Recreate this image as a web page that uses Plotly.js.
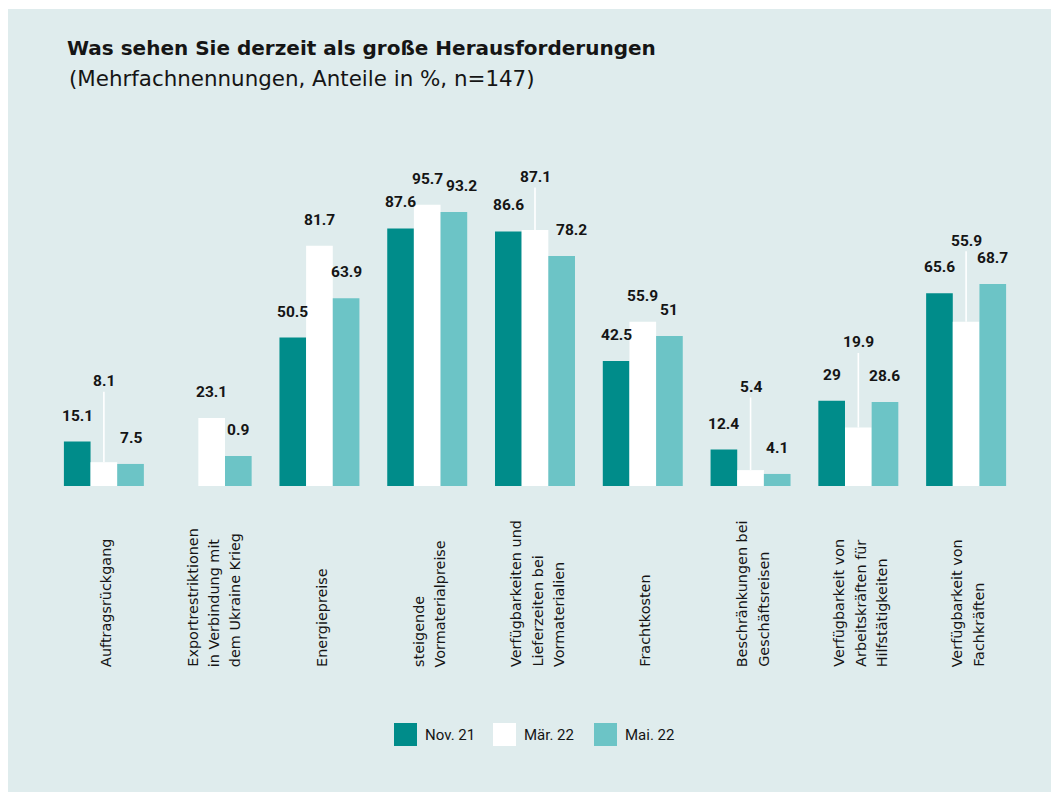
<!DOCTYPE html>
<html>
<head>
<meta charset="utf-8">
<script src="https://cdn.plot.ly/plotly-3.0.1.min.js"></script>
<style>html,body{margin:0;padding:0;background:#fff;}#chart{width:1051px;height:792px;}</style>
</head>
<body>
<div id="chart"></div>
<script>
// ---- data ----
const categories = [
  'Auftragsrückgang',
  'Exportrestriktionen<br>in Verbindung mit<br>dem Ukraine Krieg',
  'Energiepreise',
  'steigende<br>Vormaterialpreise',
  'Verfügbarkeiten und<br>Lieferzeiten bei<br>Vormaterialien',
  'Frachtkosten',
  'Beschränkungen bei<br>Geschäftsreisen',
  'Verfügbarkeit von<br>Arbeitskräften für<br>Hilfstätigkeiten',
  'Verfügbarkeit von<br>Fachkräften'
];
const seriesNames = ['Nov. 21', 'Mär. 22', 'Mai. 22'];
const valuesNov = [15.1, null, 50.5, 87.6, 86.6, 42.5, 12.4, 29, 65.6];
const valuesMar = [8.1, 23.1, 81.7, 95.7, 87.1, 55.9, 5.4, 19.9, 55.9];
const valuesMai = [7.5, 10.2, 63.9, 93.2, 78.2, 51, 4.1, 28.6, 68.7];
// value labels as printed in the chart
const labelsNov = ['15.1', '', '50.5', '87.6', '86.6', '42.5', '12.4', '29', '65.6'];
const labelsMar = ['8.1', '23.1', '81.7', '95.7', '87.1', '55.9', '5.4', '19.9', '55.9'];
const labelsMai = ['7.5', '0.9', '63.9', '93.2', '78.2', '51', '4.1', '28.6', '68.7'];

// ---- styles ----
const colors = ['#008C8A', '#FFFFFF', '#6CC4C6'];
const bgColor = '#DFECED';
const FONT = '"DejaVu Sans", sans-serif';
const NUMFONT = 'Roboto, "Liberation Sans", sans-serif';
const textColor = '#151515';
const bargap = 0.258;

// Mär. 22 labels lifted with a white leader line: category index -> pixel offset
const raisedMar = {0: -81, 4: -53, 6: -83, 7: -85, 8: -81};
// Mai. 22 labels nudged sideways to stay clear of neighbours: index -> px
const nudgeMai = {3: 8, 4: 10};

const allValues = [valuesNov, valuesMar, valuesMai];
const allLabels = [labelsNov, labelsMar, labelsMai];

const traces = allValues.map((vals, k) => ({
  type: 'bar',
  name: seriesNames[k],
  x: categories,
  y: vals,
  marker: {color: colors[k], line: {width: 0}},
  showlegend: false,
  hoverinfo: 'x+y+name'
}));

const annotations = [];
const barW = (1 - bargap) / 3;
allValues.forEach((vals, k) => {
  vals.forEach((v, i) => {
    if (v === null || allLabels[k][i] === '') return;
    const x = i + (k - 1) * barW;
    const base = {
      x: x, y: v, xref: 'x', yref: 'y',
      text: '<b>' + allLabels[k][i] + '</b>',
      font: {family: NUMFONT, size: 15.5, color: textColor},
    };
    if (k === 1 && raisedMar[i] !== undefined) {
      annotations.push(Object.assign(base, {
        showarrow: true, arrowhead: 0, arrowwidth: 1.6, arrowcolor: '#FFFFFF',
        ax: 0, ay: raisedMar[i], standoff: 0
      }));
    } else {
      annotations.push(Object.assign(base, {
        showarrow: false, yanchor: 'middle', xanchor: 'center', yshift: 26,
        xshift: (k === 2 && nudgeMai[i]) ? nudgeMai[i] : 0
      }));
    }
  });
});

// category labels (rotated, each line separate for line spacing)
categories.forEach((c, i) => {
  const lines = c.split('<br>');
  const n = lines.length;
  lines.forEach((line, j) => {
    annotations.push({
      x: i, y: 0, xref: 'x', yref: 'paper',
      text: line, showarrow: false, textangle: -90,
      xanchor: 'center', yanchor: 'bottom',
      xshift: 2 + (j - (n - 1) / 2) * 21.5, yshift: -183,
      font: {family: FONT, size: 14.4, color: textColor}, align: 'left'
    });
  });
});

// custom legend
const W = 1051, H = 792;
const L = 50, R = 31, T = 192, B = 306;
const pw = W - L - R, ph = H - T - B;
const px2x = p => (p - L) / pw;
const px2y = p => (H - B - p) / ph;
const legendX = [394, 493, 594];
const shapes = [{
  type: 'rect', xref: 'paper', yref: 'paper', layer: 'below',
  x0: px2x(8), x1: px2x(W + 5), y0: px2y(H + 5), y1: px2y(9),
  fillcolor: bgColor, line: {width: 0}
}];
seriesNames.forEach((name, k) => {
  shapes.push({
    type: 'rect', xref: 'paper', yref: 'paper',
    x0: px2x(legendX[k]), x1: px2x(legendX[k] + 23),
    y0: px2y(746), y1: px2y(723),
    fillcolor: colors[k], line: {width: 0}
  });
  annotations.push({
    xref: 'paper', yref: 'paper', x: px2x(legendX[k] + 29), y: px2y(735),
    xanchor: 'left', yanchor: 'middle', showarrow: false, text: name,
    font: {family: NUMFONT, size: 15, color: textColor}
  });
});

// subtitle
annotations.push({
  xref: 'paper', yref: 'paper', x: px2x(67), y: px2y(78),
  xanchor: 'left', yanchor: 'middle', showarrow: false,
  text: '(Mehrfachnennungen, Anteile in %, n=147)',
  font: {family: FONT, size: 21.4, color: textColor}
});

const layout = {
  width: W, height: H,
  margin: {l: L, r: R, t: T, b: B, pad: 0},
  paper_bgcolor: '#FFFFFF',
  plot_bgcolor: 'rgba(0,0,0,0)',
  barmode: 'group',
  bargap: bargap,
  bargroupgap: 0,
  title: {
    text: '<b>Was sehen Sie derzeit als große Herausforderungen</b>',
    xref: 'container', yref: 'container',
    x: 67 / W, xanchor: 'left', y: 1 - 48 / H, yanchor: 'middle',
    font: {family: FONT, size: 20, color: textColor}
  },
  xaxis: {
    type: 'category', showticklabels: false, showgrid: false,
    zeroline: false, showline: false, ticks: '', range: [-0.5, categories.length - 0.5]
  },
  yaxis: {
    range: [0, 100], visible: false, showgrid: false, zeroline: false
  },
  annotations: annotations,
  shapes: shapes,
  showlegend: false
};

Plotly.newPlot('chart', traces, layout, {displayModeBar: false, staticPlot: true});
</script>
</body>
</html>
